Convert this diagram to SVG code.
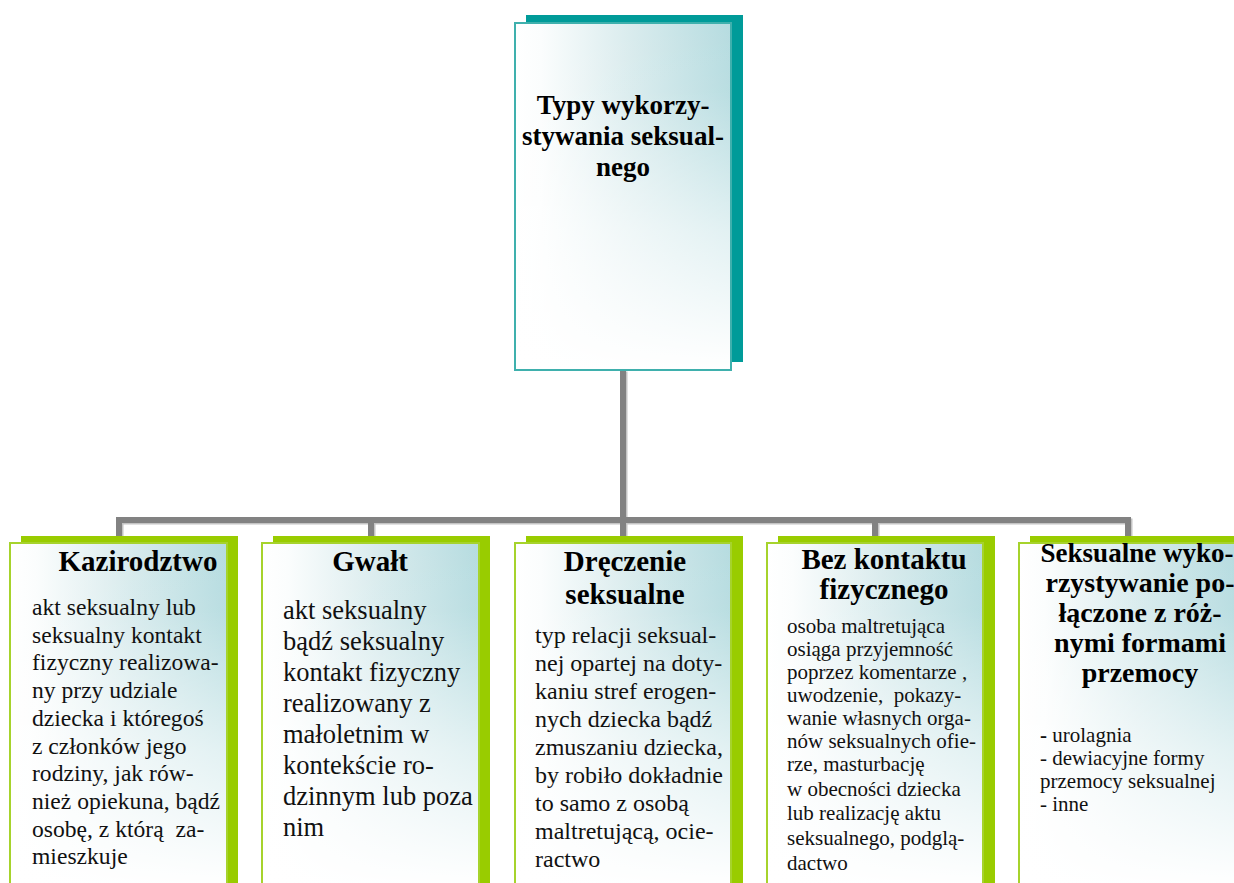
<svg xmlns="http://www.w3.org/2000/svg" width="1234" height="883" viewBox="0 0 1234 883">
<defs>
<linearGradient id="h" x1="0" y1="0" x2="1" y2="0">
<stop offset="0" stop-color="#ffffff"/>
<stop offset="0.12" stop-color="#fbfdfd"/>
<stop offset="0.55" stop-color="#d8ebed"/>
<stop offset="1" stop-color="#b6dce0"/>
</linearGradient>
<linearGradient id="v" x1="0" y1="0" x2="0" y2="1">
<stop offset="0" stop-color="#ffffff" stop-opacity="0"/>
<stop offset="0.2" stop-color="#ffffff" stop-opacity="0.05"/>
<stop offset="0.6" stop-color="#ffffff" stop-opacity="0.6"/>
<stop offset="1" stop-color="#ffffff" stop-opacity="1"/>
</linearGradient>
<style>
.t{font-family:"Liberation Serif","Times New Roman",serif;font-weight:bold;fill:#000;text-anchor:middle}
.b{font-family:"Liberation Serif","Times New Roman",serif;fill:#111}
.conn{stroke:#828282;stroke-width:6;fill:none}
.connsh{stroke:#c4c4c4;stroke-width:6;fill:none}
.sh1{fill:#009b99}
.sh2{fill:#99cc00}
.gh{fill:url(#h)}
.gv{fill:url(#v)}
.bd1{fill:none;stroke:#3fb0ad;stroke-width:2}
.bd2{fill:none;stroke:#a6d32c;stroke-width:2}
</style>
</defs>
<rect width="1234" height="883" fill="#fff"/>
<g id="connectors">
<g transform="translate(1.5,1.5)">
<path class="connsh" d="M623 370 V520"/>
<path class="connsh" d="M119 540 V520 H1128 V540"/>
<path class="connsh" d="M371 520 V540 M623 520 V540 M875 520 V540"/>
</g>
<path class="conn" d="M623 370 V520"/>
<path class="conn" d="M119 540 V520 H1128 V540"/>
<path class="conn" d="M371 520 V540 M623 520 V540 M875 520 V540"/>
</g>
<g id="root">
<rect class="sh1" x="526" y="15" width="217" height="347"/>
<rect class="gh" x="515" y="23" width="216" height="347"/>
<rect class="gv" x="515" y="23" width="216" height="347"/>
<rect class="bd1" x="515" y="23" width="216" height="347"/>
<text class="t" font-size="27" x="623" y="114">Typy wykorzy-</text>
<text class="t" font-size="27" x="623" y="145">stywania seksual-</text>
<text class="t" font-size="27" x="623" y="176">nego</text>
</g>
<g id="kazirodztwo">
<rect class="sh2" x="21" y="536" width="217" height="360"/>
<rect class="gh" x="10" y="543" width="217" height="345"/>
<rect class="gv" x="10" y="543" width="217" height="345"/>
<rect class="bd2" x="10" y="543" width="217" height="360"/>
<text class="t" font-size="29" x="138" y="571">Kazirodztwo</text>
<g class="b" font-size="23.6">
<text x="32" y="615">akt seksualny lub</text>
<text x="32" y="642.7">seksualny kontakt</text>
<text x="32" y="670.4">fizyczny realizowa-</text>
<text x="32" y="698.1">ny przy udziale</text>
<text x="32" y="725.8">dziecka i któregoś</text>
<text x="32" y="753.5">z członków jego</text>
<text x="32" y="781.2">rodziny, jak rów-</text>
<text x="32" y="808.9">nież opiekuna, bądź</text>
<text x="32" y="836.6" xml:space="preserve">osobę, z którą  za-</text>
<text x="32" y="864.3">mieszkuje</text>
</g>
</g>
<g id="gwalt">
<rect class="sh2" x="273" y="536" width="217" height="360"/>
<rect class="gh" x="262" y="543" width="217" height="345"/>
<rect class="gv" x="262" y="543" width="217" height="345"/>
<rect class="bd2" x="262" y="543" width="217" height="360"/>
<text class="t" font-size="29" x="370" y="571">Gwałt</text>
<g class="b" font-size="26.5">
<text x="283" y="619">akt seksualny</text>
<text x="283" y="650">bądź seksualny</text>
<text x="283" y="681">kontakt fizyczny</text>
<text x="283" y="712">realizowany z</text>
<text x="283" y="743">małoletnim w</text>
<text x="283" y="774">kontekście ro-</text>
<text x="283" y="805">dzinnym lub poza</text>
<text x="283" y="836">nim</text>
</g>
</g>
<g id="dreczenie">
<rect class="sh2" x="526" y="536" width="217" height="360"/>
<rect class="gh" x="515" y="543" width="216" height="345"/>
<rect class="gv" x="515" y="543" width="216" height="345"/>
<rect class="bd2" x="515" y="543" width="216" height="360"/>
<text class="t" font-size="29" x="625" y="571">Dręczenie</text>
<text class="t" font-size="29" x="625" y="604">seksualne</text>
<g class="b" font-size="24">
<text x="535" y="643">typ relacji seksual-</text>
<text x="535" y="671">nej opartej na doty-</text>
<text x="535" y="699">kaniu stref erogen-</text>
<text x="535" y="727">nych dziecka bądź</text>
<text x="535" y="755">zmuszaniu dziecka,</text>
<text x="535" y="783">by robiło dokładnie</text>
<text x="535" y="811">to samo z osobą</text>
<text x="535" y="839">maltretującą, ocie-</text>
<text x="535" y="867">ractwo</text>
</g>
</g>
<g id="bez-kontaktu">
<rect class="sh2" x="778" y="536" width="217" height="360"/>
<rect class="gh" x="767" y="543" width="216" height="345"/>
<rect class="gv" x="767" y="543" width="216" height="345"/>
<rect class="bd2" x="767" y="543" width="216" height="360"/>
<text class="t" font-size="29" x="884" y="569">Bez kontaktu</text>
<text class="t" font-size="29" x="884" y="599">fizycznego</text>
<g class="b" font-size="21">
<text x="787" y="633">osoba maltretująca</text>
<text x="787" y="656">osiąga przyjemność</text>
<text x="787" y="679">poprzez komentarze ,</text>
<text x="787" y="702" xml:space="preserve">uwodzenie,  pokazy-</text>
<text x="787" y="725">wanie własnych orga-</text>
<text x="787" y="748">nów seksualnych ofie-</text>
<text x="787" y="771">rze, masturbację</text>
<text x="787" y="796">w obecności dziecka</text>
<text x="787" y="820">lub realizację aktu</text>
<text x="787" y="845">seksualnego, podglą-</text>
<text x="787" y="870">dactwo</text>
</g>
</g>
<g id="seksualne-wykorzystywanie">
<rect class="sh2" x="1030" y="536" width="217" height="360"/>
<rect class="gh" x="1019" y="543" width="217" height="345"/>
<rect class="gv" x="1019" y="543" width="217" height="345"/>
<rect class="bd2" x="1019" y="543" width="217" height="360"/>
<text class="t" font-size="27" x="1137" y="562">Seksualne wyko-</text>
<text class="t" font-size="28" x="1140" y="592">rzystywanie po-</text>
<text class="t" font-size="28" x="1140" y="622">łączone z róż-</text>
<text class="t" font-size="28" x="1140" y="652">nymi formami</text>
<text class="t" font-size="28" x="1140" y="682">przemocy</text>
<g class="b" font-size="21">
<text x="1040" y="742"><tspan font-weight="bold">-</tspan> urolagnia</text>
<text x="1040" y="765">- dewiacyjne formy</text>
<text x="1040" y="788">przemocy seksualnej</text>
<text x="1040" y="811">- inne</text>
</g>
</g>
</svg>
